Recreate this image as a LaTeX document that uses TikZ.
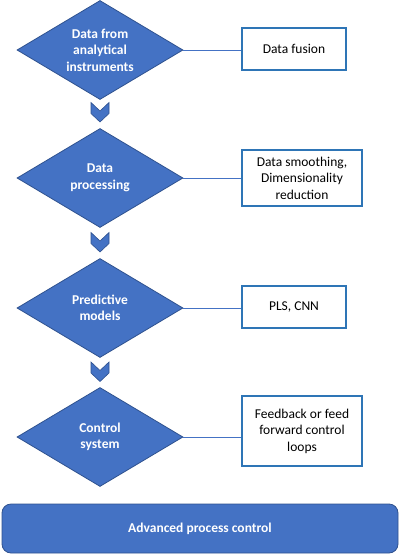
\documentclass[tikz,border=0pt]{standalone}
\usepackage{fontspec}
\setmainfont{Carlito}
\usetikzlibrary{shapes.geometric}
\definecolor{fillblue}{HTML}{4472C4}
\definecolor{edgeblue}{HTML}{2F528F}
\definecolor{boxblue}{HTML}{2E75B6}
\tikzset{
  stage/.style={diamond, aspect=1.66, inner sep=0pt, minimum width=166pt, minimum height=99pt,
    fill=fillblue, draw=edgeblue, line width=0.8pt, text=white, align=center,
    font=\fontsize{13.5pt}{16.5pt}\selectfont\bfseries},
  infobox/.style={rectangle, draw=boxblue, line width=2.2pt, fill=white, inner sep=2pt, align=center,
    font=\fontsize{13.5pt}{16.5pt}\selectfont},
  link/.style={draw=fillblue, line width=0.9pt},
  chev/.style={fill=fillblue, draw=edgeblue, line width=0.6pt},
  bar/.style={rectangle, rounded corners=9pt, fill=fillblue, draw=edgeblue, line width=0.8pt,
    text=white, minimum width=396pt, minimum height=49pt,
    font=\fontsize{13.5pt}{16.5pt}\selectfont\bfseries}
}
\newcommand{\chevronat}[1]{%
  \path[chev] (#1) ++(-9,0) -- ++(9,8.5) -- ++(9,-8.5) -- ++(0,11) -- ++(-9,8.5) -- ++(-9,-8.5) -- cycle;}
\begin{document}
\begin{tikzpicture}[x=1pt,y=-1pt]
\useasboundingbox (0,0) rectangle (400,554);
\node[stage] (d1) at (100,50) {Data from\\analytical\\instruments};
\node[stage] (d2) at (100,178) {Data\\processing};
\node[stage] (d3) at (100,308) {Predictive\\models};
\node[stage] (d4) at (100,437) {Control\\system};
\node[infobox, minimum width=104pt, minimum height=42pt] (b1) at (294,49) {Data fusion};
\node[infobox, minimum width=120pt, minimum height=56pt] (b2) at (302,178) {Data smoothing,\\Dimensionality\\reduction};
\node[infobox, minimum width=104pt, minimum height=42pt] (b3) at (294,307) {PLS, CNN};
\node[infobox, minimum width=120pt, minimum height=70pt] (b4) at (302,431) {Feedback or feed\\forward control\\loops};
\node[bar] (apc) at (200,528.5) {Advanced process control};
\draw[link] (d1.east) -- (d1.east -| b1.west);
\draw[link] (d2.east) -- (d2.east -| b2.west);
\draw[link] (d3.east) -- (d3.east -| b3.west);
\draw[link] (d4.east) -- (d4.east -| b4.west);
\coordinate (c1) at (100,102.5);
\coordinate (c2) at (100,232.5);
\coordinate (c3) at (100,362);
\chevronat{c1}
\chevronat{c2}
\chevronat{c3}
\end{tikzpicture}
\end{document}
